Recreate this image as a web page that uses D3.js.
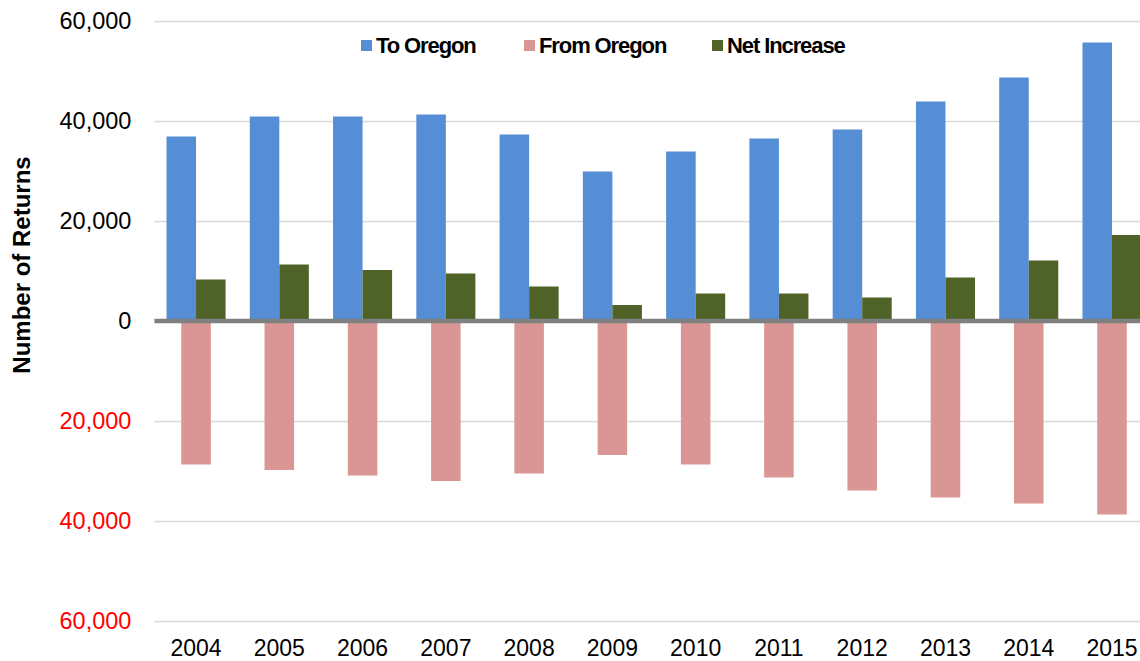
<!DOCTYPE html>
<html>
<head>
<meta charset="utf-8">
<script src="https://cdn.jsdelivr.net/npm/d3@7"></script>
<style>
  body { margin: 0; background: #fff; }
  svg { display: block; font-family: "Liberation Sans", Arial, sans-serif; }
</style>
</head>
<body>
<svg id="chart" width="1140" height="661"></svg>
<script>
// data
const years = ["2004", "2005", "2006", "2007", "2008", "2009", "2010", "2011", "2012", "2013", "2014", "2015"];
const toOregon = [36900, 40900, 40900, 41300, 37300, 29900, 33900, 36500, 38300, 43900, 48700, 55700];
const fromOregon = [28700, 29800, 30900, 32000, 30500, 26800, 28700, 31300, 33900, 35300, 36500, 38700];
const netIncrease = [8300, 11300, 10200, 9500, 6900, 3200, 5500, 5500, 4700, 8700, 12100, 17200];
const yTicks = [-60000, -40000, -20000, 0, 20000, 40000, 60000];
const seriesNames = ["To Oregon", "From Oregon", "Net Increase"];
const seriesColors = ["#558ed5", "#d99694", "#4f6228"];

const svg = d3.select("#chart");
const plotLeft = 154.4, plotRight = 1140, plotTop = 21, plotBottom = 621;

let x = d3.scaleBand()
  .domain(years)
  .range([plotLeft, plotLeft + 83.27 * years.length]);

// blue and green side by side, pink centred under them
let xs = d3.scaleBand()
  .domain(["to", "net"])
  .range([0, x.bandwidth()])
  .paddingOuter(0.41);

let y = d3.scaleLinear()
  .domain([-60000, 60000])
  .range([plotBottom, plotTop]);

// gridlines
svg.append("g")
  .attr("transform", `translate(${plotLeft},0)`)
  .call(d3.axisLeft(y).tickValues(yTicks.filter(t => t != 0)).tickSize(-(plotRight - plotLeft)).tickFormat(""))
  .call(g => g.select(".domain").remove())
  .call(g => g.selectAll("line").attr("stroke", "#d9d9d9").attr("stroke-width", 1.6));

// tick labels
let fmt = d3.format(",");
svg.append("g")
  .attr("transform", `translate(${plotLeft},0)`)
  .call(d3.axisLeft(y).tickValues(yTicks).tickSize(0).tickPadding(23).tickFormat(d => fmt(Math.abs(d))))
  .call(g => g.select(".domain").remove())
  .call(g => g.selectAll("text")
    .attr("font-size", 23.5)
    .attr("font-family", "'Liberation Sans', Arial, sans-serif")
    .attr("fill", d => d < 0 ? "#ff0000" : "#000"));

let rows = years.map((yr, i) => ({ year: yr, to: toOregon[i], from: fromOregon[i], net: netIncrease[i] }));

// From Oregon (drawn downward)
svg.append("g").selectAll("rect")
  .data(rows)
  .join("rect")
  .attr("x", d => x(d.year) + x.bandwidth() / 2 - xs.bandwidth() / 2)
  .attr("width", xs.bandwidth())
  .attr("y", y(0))
  .attr("height", d => y(-d.from) - y(0))
  .attr("fill", seriesColors[1]);

// To Oregon
svg.append("g").selectAll("rect")
  .data(rows)
  .join("rect")
  .attr("x", d => x(d.year) + xs("to"))
  .attr("width", xs.bandwidth())
  .attr("y", d => y(d.to))
  .attr("height", d => y(0) - y(d.to))
  .attr("fill", seriesColors[0]);

// Net Increase
svg.append("g").selectAll("rect")
  .data(rows)
  .join("rect")
  .attr("x", d => x(d.year) + xs("net"))
  .attr("width", xs.bandwidth())
  .attr("y", d => y(d.net))
  .attr("height", d => y(0) - y(d.net))
  .attr("fill", seriesColors[2]);

// zero line
svg.append("line")
  .attr("x1", plotLeft).attr("x2", plotRight)
  .attr("y1", y(0)).attr("y2", y(0))
  .attr("stroke", "#808080")
  .attr("stroke-width", 4.5);

// year labels
svg.append("g")
  .attr("transform", `translate(0,${plotBottom})`)
  .call(d3.axisBottom(x).tickSize(0).tickPadding(18.5))
  .call(g => g.select(".domain").remove())
  .call(g => g.selectAll("text")
    .attr("font-size", 23)
    .attr("font-family", "'Liberation Sans', Arial, sans-serif")
    .attr("fill", "#000"));

// axis title
svg.append("text")
  .attr("transform", "translate(30,265) rotate(-90)")
  .attr("text-anchor", "middle")
  .attr("font-size", 24)
  .attr("font-weight", "bold")
  .text("Number of Returns");

// legend
let legendX = [361, 524, 712];
let legend = svg.append("g").selectAll("g")
  .data(seriesNames)
  .join("g")
  .attr("transform", (d, i) => `translate(${legendX[i]},40)`);

legend.append("rect")
  .attr("width", 11)
  .attr("height", 11)
  .attr("fill", (d, i) => seriesColors[i]);

legend.append("text")
  .attr("x", 15)
  .attr("y", 12.5)
  .attr("font-size", 22)
  .attr("letter-spacing", -1.1)
  .attr("font-weight", "bold")
  .text(d => d);
</script>
</body>
</html>
